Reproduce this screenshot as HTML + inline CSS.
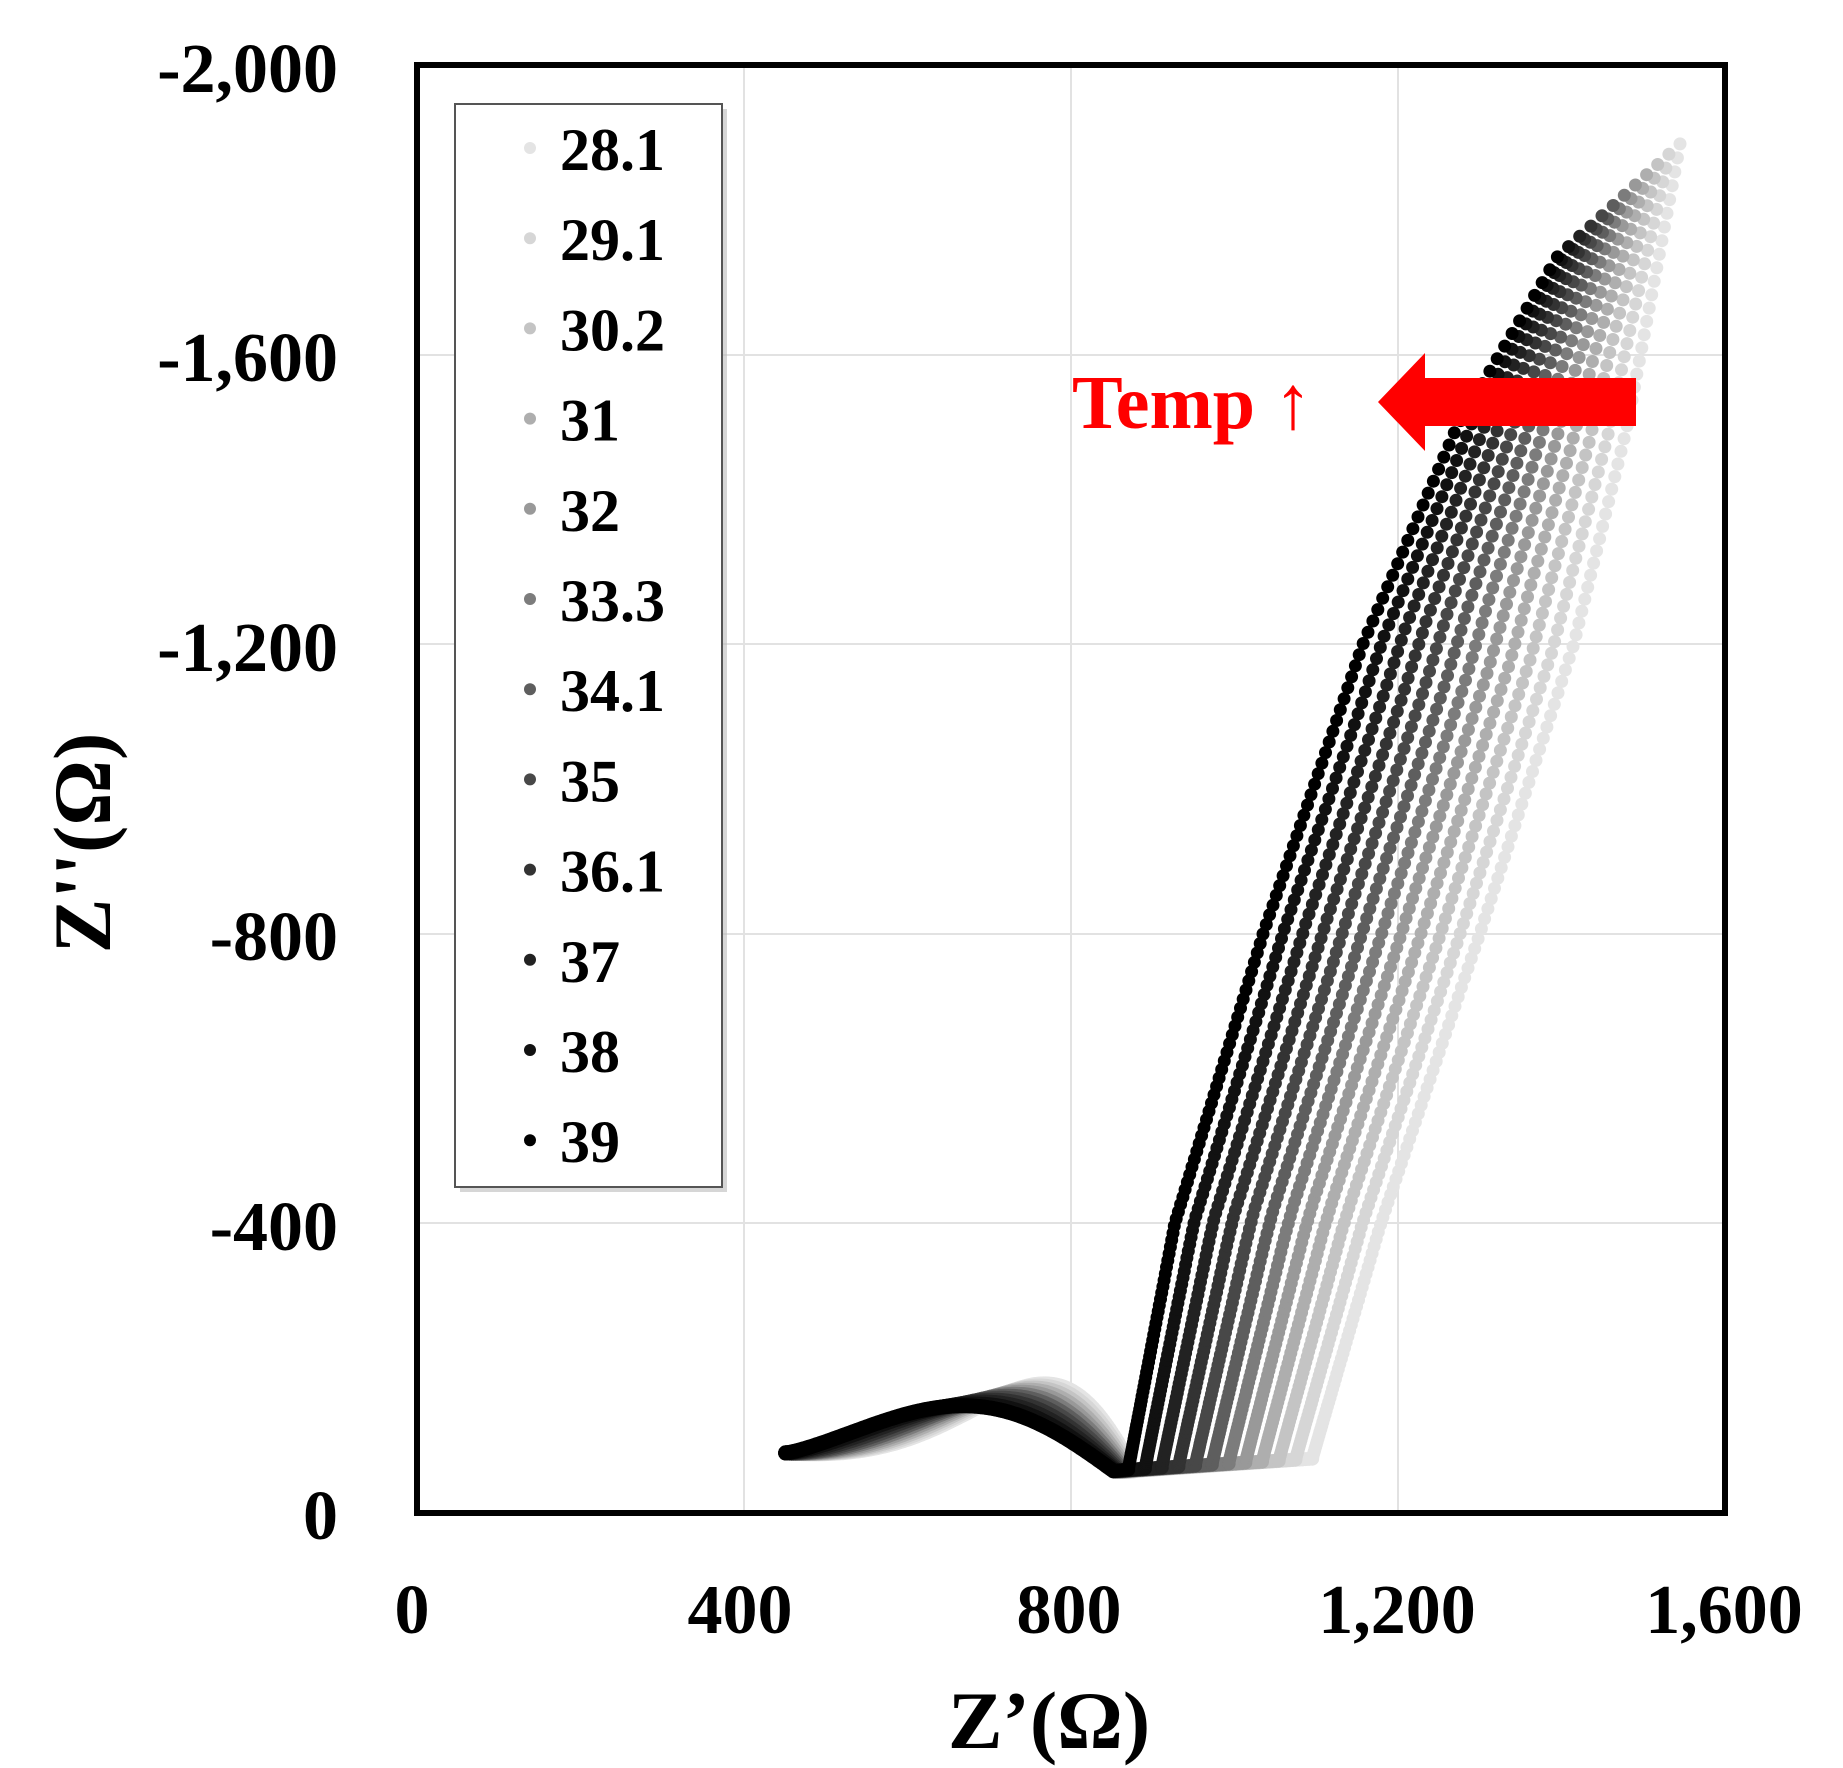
<!DOCTYPE html>
<html><head><meta charset="utf-8"><style>
html,body{margin:0;padding:0;background:#fff;}
svg{display:block;}
text{font-family:"Liberation Serif",serif;font-weight:bold;}
</style></head><body>
<svg id="s" width="1843" height="1768" viewBox="0 0 1843 1768" xmlns="http://www.w3.org/2000/svg">
<rect width="1843" height="1768" fill="#fff"/>
<g stroke="#e2e2e2" stroke-width="2">
<line x1="744" y1="65" x2="744" y2="1513"/>
<line x1="1071" y1="65" x2="1071" y2="1513"/>
<line x1="1398" y1="65" x2="1398" y2="1513"/>
<line x1="417" y1="1223" x2="1725" y2="1223"/>
<line x1="417" y1="934" x2="1725" y2="934"/>
<line x1="417" y1="644" x2="1725" y2="644"/>
<line x1="417" y1="355" x2="1725" y2="355"/>
</g>
<g id="data"></g>
<rect x="417" y="65" width="1308" height="1448" fill="none" stroke="#000" stroke-width="6"/>
<g font-size="70" text-anchor="end">
<text x="338" y="92">-2,000</text>
<text x="338" y="381">-1,600</text>
<text x="338" y="671">-1,200</text>
<text x="338" y="960">-800</text>
<text x="338" y="1250">-400</text>
<text x="338" y="1539">0</text>
</g>
<g font-size="70" text-anchor="middle">
<text x="412" y="1633">0</text>
<text x="740" y="1633">400</text>
<text x="1069" y="1633">800</text>
<text x="1397" y="1633">1,200</text>
<text x="1724" y="1633">1,600</text>
</g>
<text x="1049" y="1748" font-size="82" text-anchor="middle">Z’(Ω)</text>
<text transform="translate(110,843) rotate(-90)" font-size="82" text-anchor="middle">Z''(Ω)</text>
<rect x="460" y="109" width="267" height="1083" fill="#bbb" opacity="0.6"/>
<rect x="455" y="104" width="267" height="1083" fill="#fff" stroke="#555" stroke-width="2"/>
<g id="leg" font-size="60"></g>
<text x="1072" y="428" font-size="76" fill="#f00">Temp ↑</text>
<polygon points="1378,402 1425,353 1425,378 1636,378 1636,426 1425,426 1425,451" fill="#f00"/>
</svg>
<script>
(function(){
var labels=["28.1","29.1","30.2","31","32","33.3","34.1","35","36.1","37","38","39"];
var cols=["#e4e4e4","#d6d6d6","#c4c4c4","#aeaeae","#999","#7c7c7c","#5e5e5e","#484848","#333","#222","#111","#000"];
var ns="http://www.w3.org/2000/svg";
var leg=document.getElementById("leg");
for(var i=0;i<12;i++){
 var yy=150+i*90.2;
 var c=document.createElementNS(ns,"circle");c.setAttribute("cx",530);c.setAttribute("cy",yy-2);c.setAttribute("r",6);c.setAttribute("fill",cols[i]);leg.appendChild(c);
 var tx=document.createElementNS(ns,"text");tx.setAttribute("x",560);tx.setAttribute("y",yy+20);tx.textContent=labels[i];leg.appendChild(tx);
}
function px(x){return 417+x*0.8175;}
function py(y){return 1513-y*0.724;}
// anchors: [y, x] for black and lightest
var BY=[60,400,800,1200,1500,1735], BX=[870,927,1035,1157,1272,1395];
var LY=[75,400,800,1200,1500,1891], LX=[1095,1179,1300,1415,1480,1545];
function interp(Ys,Xs,y){
 for(var j=0;j<Ys.length-1;j++){ if(y<=Ys[j+1]){var t=(y-Ys[j])/(Ys[j+1]-Ys[j]);return Xs[j]+(Xs[j+1]-Xs[j])*t;} }
 return Xs[Xs.length-1];
}
var out="";
for(var i=0;i<12;i++){
 var f=(11-i)/11;
 var col=cols[i];
 var xend=852+f*25, h=79+f*35, q=1.23+f*1.2;
 var y0=60+f*15, ytop=1735+f*156;
 var x0=870+f*225;
 var N=170;
 for(var k=0;k<=N;k++){
  var t=k/N, x=451+(xend-451)*t, base=83+(58-83)*t;
  var y=base+h*Math.sin(Math.PI*Math.pow(t,q));
  out+='<circle cx="'+px(x).toFixed(1)+'" cy="'+py(y).toFixed(1)+'" r="7.5" fill="'+col+'"/>';
 }
 var M=Math.max(2,Math.round((x0-xend)/4));
 for(var k=0;k<=M;k++){
  var t=k/M, x=xend+(x0-xend)*t, y=58+(y0-58)*t;
  out+='<circle cx="'+px(x).toFixed(1)+'" cy="'+py(y).toFixed(1)+'" r="7" fill="'+col+'"/>';
 }
 var R=150;
 for(var k=0;k<=R;k++){
  var u=Math.pow(k/R,1.6), y=y0+(ytop-y0)*u;
  // normalized position along rise
  var s=(y-y0)/(ytop-y0);
  var yb=BY[0]+s*(BY[5]-BY[0]), yl=LY[0]+s*(LY[5]-LY[0]);
  var xb=interp(BY,BX,yb), xl=interp(LY,LX,yl);
  var x=xb+(xl-xb)*f;
  out+='<circle cx="'+px(x).toFixed(1)+'" cy="'+py(y).toFixed(1)+'" r="6.5" fill="'+col+'"/>';
 }
}
document.getElementById("data").innerHTML=out;
})();
</script>
</body></html>
